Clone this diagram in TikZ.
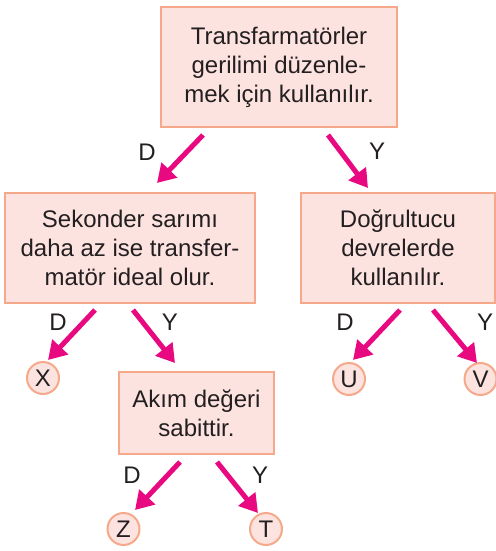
\documentclass[tikz,border=0pt]{standalone}
\usepackage{fontspec}
\setmainfont{Liberation Sans}
\usepackage{xcolor}
\usetikzlibrary{positioning,arrows.meta}

\definecolor{boxfill}{HTML}{FDE3DF}
\definecolor{boxline}{HTML}{F5A98A}
\definecolor{arrowmag}{HTML}{E8087F}
\definecolor{txtgray}{HTML}{231F20}

\tikzset{
    kutu/.style={draw=boxline, fill=boxfill, line width=1pt, inner sep=0pt,
        align=center, text=txtgray, font=\fontsize{12}{14.5}\selectfont},
    harf/.style={circle, draw=boxline, fill=boxfill, line width=1pt, inner sep=0pt,
        minimum size=16pt, text=txtgray, font=\fontsize{12}{14}\selectfont},
    ok/.style={arrowmag, line width=2.5pt, -{Triangle[length=9pt,width=10.5pt]}},
    etiket/.style={text=txtgray, font=\fontsize{12}{14}\selectfont}
}

\begin{document}
\begin{tikzpicture}[x=0.5pt,y=-0.5pt]
    \useasboundingbox (0,0) rectangle (496,551);

    % kutular
    \node[kutu, minimum width=118pt, minimum height=60pt] (trafo) at (279,67)
        {Transfarmatörler\\gerilimi düzenle-\\mek için kullanılır.};
    \node[kutu, minimum width=125pt, minimum height=55pt] (sekonder) at (130,248)
        {Sekonder sarımı\\daha az ise transfer-\\matör ideal olur.};
    \node[kutu, minimum width=97pt, minimum height=55pt] (dogrultucu) at (398,248)
        {Doğrultucu\\devrelerde\\kullanılır.};
    \node[kutu, minimum width=77.5pt, minimum height=41pt] (akim) at (196.5,413)
        {Akım değeri\\sabittir.};

    % sonuclar
    \node[harf] (X) at (43,378) {X};
    \node[harf] (U) at (349,379) {U};
    \node[harf] (V) at (480.5,379) {V};
    \node[harf] (Z) at (123.5,529) {Z};
    \node[harf] (T) at (266,529) {T};

    % ok uclari
    \coordinate (t1) at (203,135); \coordinate (t1e) at (157,183);
    \coordinate (t2) at (328,135); \coordinate (t2e) at (368,188);
    \coordinate (s1) at (95,310);  \coordinate (s1e) at (48,360);
    \coordinate (s2) at (133,310); \coordinate (s2e) at (175,363);
    \coordinate (d1) at (400,310); \coordinate (d1e) at (353,360);
    \coordinate (d2) at (433,310); \coordinate (d2e) at (477,363);
    \coordinate (a1) at (180,462); \coordinate (a1e) at (135,510);
    \coordinate (a2) at (217,462); \coordinate (a2e) at (258,513);

    \draw[ok] (t1) -- (t1e);
    \draw[ok] (t2) -- (t2e);
    \draw[ok] (s1) -- (s1e);
    \draw[ok] (s2) -- (s2e);
    \draw[ok] (d1) -- (d1e);
    \draw[ok] (d2) -- (d2e);
    \draw[ok] (a1) -- (a1e);
    \draw[ok] (a2) -- (a2e);

    % D / Y
    \node[etiket] (tD) at (147,152) {D};
    \node[etiket] (tY) at (377,151) {Y};
    \node[etiket] (sD) at (58,322) {D};
    \node[etiket] (sY) at (170,322) {Y};
    \node[etiket] (dD) at (345,322) {D};
    \node[etiket] (dY) at (485,322) {Y};
    \node[etiket] (aD) at (132,475) {D};
    \node[etiket] (aY) at (260,475) {Y};
\end{tikzpicture}
\end{document}
